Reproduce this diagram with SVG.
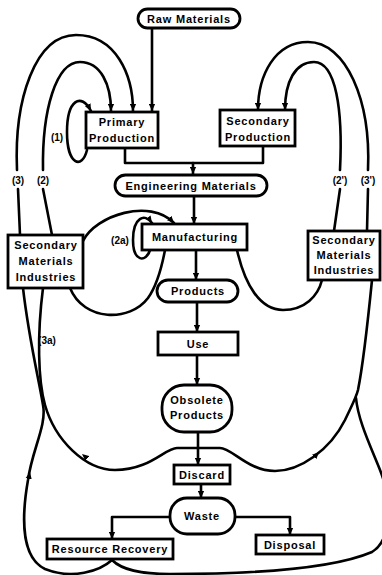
<svg xmlns="http://www.w3.org/2000/svg" width="382" height="575" viewBox="0 0 382 575">
<defs>
<style>
.bx{fill:#fff;stroke:#000;stroke-width:2.8}
.t{font-family:"Liberation Sans",Arial,sans-serif;font-weight:bold;font-size:11px;letter-spacing:0.8px;text-anchor:middle;fill:#000}
.lb{font-family:"Liberation Sans",Arial,sans-serif;font-weight:bold;font-size:10px;text-anchor:middle;fill:#000}
.c{fill:none;stroke:#000;stroke-width:2.6;stroke-linecap:round;stroke-linejoin:round}
.g{fill:none;stroke:none}
</style>
<marker id="ah" viewBox="0 0 10 10" refX="10" refY="5" markerWidth="7" markerHeight="7" markerUnits="userSpaceOnUse" orient="auto"><path d="M0,0.5 L10,5 L0,9.5 z" fill="#000"/></marker>
</defs>
<rect width="382" height="575" fill="#fff"/>
<g id="connectors">
<path class="c" d="M152,28 L152,111" marker-end="url(#ah)"/>
<path class="c" d="M17,170 C14,100 35,35 76,35 C116,35 133,75 133,111" marker-end="url(#ah)"/>
<path class="c" d="M43,170 C42,110 56,62 80,62 C101,62 111,85 111,111" marker-end="url(#ah)"/>
<path class="c" d="M368,170 C371,100 346,42 308,42 C275,42 258,75 258,110" marker-end="url(#ah)"/>
<path class="c" d="M340,170 C343,110 336,62 314,62 C295,62 285,82 285,110" marker-end="url(#ah)"/>
<path class="c" d="M87,150 C82,170 67,165 67,132 C67,100 81,92 91,111" marker-end="url(#ah)"/>
<path class="c" d="M18,189 L20,235"/>
<path class="c" d="M43,189 L52,235"/>
<path class="c" d="M340,189 L334,231"/>
<path class="c" d="M368,189 L367,231"/>
<path class="c" d="M125,148 L125,163 L263,163 L263,146"/>
<path class="c" d="M193,163 L193,174" marker-end="url(#ah)"/>
<path class="c" d="M194,197 L194,224" marker-end="url(#ah)"/>
<path class="c" d="M150,250 C146,263 133,262 133,240 C133,217 145,213 152,223" marker-end="url(#ah)"/>
<path class="c" d="M83,241 C96,215 150,198 174,223" marker-end="url(#ah)"/>
<path class="c" d="M70,288 C84,322 130,322 148,298 C158,284 162,266 165,250"/>
<path class="c" d="M237,250 C245,285 260,310 283,310 C305,310 318,296 322,280"/>
<path class="c" d="M196,250 L196,280" marker-end="url(#ah)"/>
<path class="c" d="M197,302 L197,332" marker-end="url(#ah)"/>
<path class="c" d="M197,355 L197,385" marker-end="url(#ah)"/>
<path class="c" d="M198,432 L198,465" marker-end="url(#ah)"/>
<path class="c" d="M201,484 L201,498" marker-end="url(#ah)"/>
<path class="c" d="M198,448 L177,448 C165,448 150,470 115,470 C85,470 55,440 45,405 C38,380 37,335 43,288"/>
<path class="c" d="M198,448 L220,448 C232,448 248,471 275,471 C300,471 330,450 345,420 C352,405 356,398 358,390 C364,360 368,320 372,280"/>
<path class="c" d="M23,288 C29,340 39,380 43,405 C47,425 32,450 28,480 C21,520 22,558 45,569 C72,580 100,571 112,560"/>
<path class="c" d="M112,560 C122,570 140,574 170,574 C250,574 330,570 372,552 C392,540 392,500 380,470 C370,445 358,420 356,398"/>
<path class="c" d="M170,517 L112,517 L112,539" marker-end="url(#ah)"/>
<path class="c" d="M235,517 L290,517 L290,535" marker-end="url(#ah)"/>
<path class="g" d="M88,459 L82,454" marker-end="url(#ah)"/>
<path class="g" d="M28,482 L30,472" marker-end="url(#ah)"/>
<path class="g" d="M312,459 L319,452" marker-end="url(#ah)"/>
</g>
<g id="raw-materials"><rect class="bx" x="138" y="9" width="102" height="19" rx="9.5"/><text class="t" x="189" y="22.5">Raw Materials</text></g>
<g id="primary-production"><rect class="bx" x="86" y="112" width="72" height="36"/><text class="t" x="122" y="126">Primary</text><text class="t" x="122" y="142">Production</text></g>
<g id="secondary-production"><rect class="bx" x="220" y="110" width="75" height="36"/><text class="t" x="258" y="125">Secondary</text><text class="t" x="258" y="141">Production</text></g>
<g id="engineering-materials"><rect class="bx" x="115" y="175" width="152" height="21" rx="10.5"/><text class="t" x="191" y="189.5">Engineering Materials</text></g>
<g id="manufacturing"><rect class="bx" x="142" y="224" width="105" height="26"/><text class="t" x="195" y="241">Manufacturing</text></g>
<g id="smi-left"><rect class="bx" x="8" y="235" width="75" height="53"/><text class="t" x="46" y="249">Secondary</text><text class="t" x="46" y="265">Materials</text><text class="t" x="46" y="281">Industries</text></g>
<g id="smi-right"><rect class="bx" x="308" y="231" width="72" height="49"/><text class="t" x="344" y="244">Secondary</text><text class="t" x="344" y="259">Materials</text><text class="t" x="344" y="274">Industries</text></g>
<g id="products"><rect class="bx" x="157" y="280" width="81" height="22" rx="11"/><text class="t" x="198" y="295">Products</text></g>
<g id="use"><rect class="bx" x="158" y="332" width="80" height="23"/><text class="t" x="198" y="347.5">Use</text></g>
<g id="obsolete-products"><rect class="bx" x="162" y="385" width="70" height="47" rx="22"/><text class="t" x="197" y="404">Obsolete</text><text class="t" x="197" y="419">Products</text></g>
<g id="discard"><rect class="bx" x="174" y="465" width="56" height="19"/><text class="t" x="202" y="478.5">Discard</text></g>
<g id="waste"><rect class="bx" x="170" y="498" width="65" height="36" rx="17"/><text class="t" x="202" y="520">Waste</text></g>
<g id="resource-recovery"><rect class="bx" x="47" y="539" width="126" height="20"/><text class="t" x="110" y="553">Resource Recovery</text></g>
<g id="disposal"><rect class="bx" x="256" y="535" width="68" height="19"/><text class="t" x="290" y="548.5">Disposal</text></g>
<g id="labels">
<text class="lb" x="57" y="141">(1)</text>
<text class="lb" x="18" y="184">(3)</text>
<text class="lb" x="43" y="184">(2)</text>
<text class="lb" x="340" y="184">(2')</text>
<text class="lb" x="368" y="184">(3')</text>
<text class="lb" x="120" y="244">(2a)</text>
<text class="lb" x="47" y="344">(3a)</text>
</g>
</svg>
